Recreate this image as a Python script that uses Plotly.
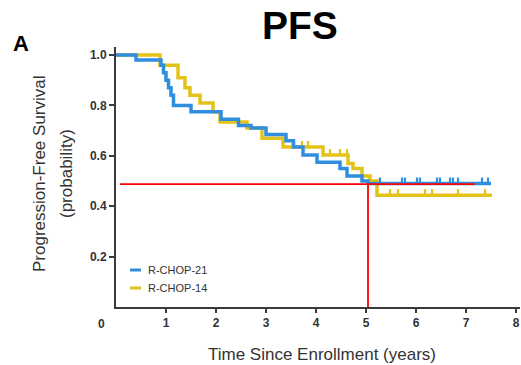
import plotly.graph_objects as go

# Kaplan-Meier step data: event times (years) and survival after each step
rchop21_time = [0.0, 0.4, 0.9, 0.95, 1.0, 1.05, 1.1, 1.15, 1.5, 2.1, 2.45, 2.7, 3.0, 3.4, 3.55,
                3.74, 4.02, 4.48, 4.62, 4.92, 5.04, 7.5]
rchop21_surv = [1.0, 0.98, 0.96, 0.93, 0.90, 0.87, 0.84, 0.80, 0.775, 0.745, 0.72, 0.71, 0.685, 0.66, 0.635,
                0.603, 0.575, 0.55, 0.52, 0.50, 0.49, 0.49]
rchop21_censor = [5.28, 5.72, 5.78, 6.02, 6.08, 6.42, 6.48, 6.68, 6.74, 6.84, 7.32, 7.44]

rchop14_time = [0.0, 0.88, 1.24, 1.38, 1.48, 1.68, 1.94, 2.08, 2.62, 2.92, 3.34, 4.14, 4.64, 4.74,
                4.92, 5.08, 5.22, 7.52]
rchop14_surv = [1.0, 0.96, 0.91, 0.87, 0.84, 0.81, 0.775, 0.734, 0.71, 0.67, 0.635, 0.603, 0.57, 0.55,
                0.52, 0.50, 0.444, 0.444]
rchop14_censor = [3.54, 3.72, 3.84, 4.28, 4.48, 4.62, 5.48, 5.64, 6.18, 6.32, 6.84, 7.38]

# Median reference lines
median_level = 0.488
median_time = 5.04
median_line_start = 0.08
median_line_end = 7.18

x_ticks = [1, 2, 3, 4, 5, 6, 7, 8]
y_ticks = [0.2, 0.4, 0.6, 0.8, 1.0]

BLUE = "#2f8fde"
YELLOW = "#e3c21a"
RED = "#ff0000"
AXIS = "#3a3a3a"
TXT = "#333333"
FONT = "Liberation Sans, Arial, sans-serif"


def step_at(times, surv, t):
    v = surv[0]
    for ti, si in zip(times, surv):
        if ti <= t:
            v = si
    return v


fig = go.Figure()

for times, surv, censor, color, name in [
    (rchop14_time, rchop14_surv, rchop14_censor, YELLOW, "R-CHOP-14"),
    (rchop21_time, rchop21_surv, rchop21_censor, BLUE, "R-CHOP-21"),
]:
    fig.add_trace(go.Scatter(x=times, y=surv, mode="lines", line=dict(color=color, width=3.5, shape="hv"),
                             name=name, showlegend=False, hoverinfo="skip"))
    fig.add_trace(go.Scatter(x=censor, y=[step_at(times, surv, c) + 0.01 for c in censor], mode="markers",
                             marker=dict(symbol="line-ns", size=5, line=dict(color=color, width=2.2)),
                             showlegend=False, hoverinfo="skip"))

fig.add_trace(go.Scatter(x=[median_line_start, median_line_end], y=[median_level, median_level], mode="lines",
                         line=dict(color=RED, width=1.8), showlegend=False, hoverinfo="skip"))
fig.add_trace(go.Scatter(x=[median_time, median_time], y=[0, median_level], mode="lines",
                         line=dict(color=RED, width=1.8), showlegend=False, hoverinfo="skip"))

L, T, W, H = 116, 47, 404, 260


def px(x):
    return (x - L) / W


def py(y):
    return (T + H - y) / H


annotations = [
    dict(text="<b>PFS</b>", x=px(300), y=py(25), font=dict(size=39, color="black", family=FONT)),
    dict(text="<b>A</b>", x=px(21), y=py(43), font=dict(size=22, color="black", family=FONT)),
    dict(text="<b>0</b>", x=px(101), y=py(324), font=dict(size=12, color=TXT, family=FONT)),
    dict(text="Time Since Enrollment (years)", x=px(322), y=py(354), font=dict(size=17, color=TXT, family=FONT)),
    dict(text="Progression-Free Survival", x=px(39), y=py(174), textangle=-90,
         font=dict(size=17, color=TXT, family=FONT)),
    dict(text="(probability)", x=px(66), y=py(174), textangle=-90, font=dict(size=17, color=TXT, family=FONT)),
    dict(text="R-CHOP-21", x=px(146), y=py(270), xanchor="left", font=dict(size=11, color=TXT, family=FONT)),
    dict(text="R-CHOP-14", x=px(146), y=py(288), xanchor="left", font=dict(size=11, color=TXT, family=FONT)),
]
for a in annotations:
    a.setdefault("xanchor", "center")
    fig.add_annotation(xref="paper", yref="paper", yanchor="middle", showarrow=False, **a)

for yy, color in [(270, BLUE), (288, YELLOW)]:
    fig.add_shape(type="line", xref="paper", yref="paper", x0=px(130), x1=px(141), y0=py(yy), y1=py(yy),
                  line=dict(color=color, width=3))

fig.update_layout(
    width=521, height=365,
    margin=dict(l=L, r=521 - L - W, t=T, b=365 - T - H),
    paper_bgcolor="white", plot_bgcolor="white",
    font=dict(family=FONT, color=TXT),
)
fig.update_xaxes(range=[0, 8.08], tickvals=x_ticks, ticktext=[f"<b>{v}</b>" for v in x_ticks],
                 ticks="outside", ticklen=4, tickwidth=1.5, tickcolor=AXIS,
                 showline=True, linecolor=AXIS, linewidth=2, showgrid=False, zeroline=False,
                 tickfont=dict(size=12, color=TXT), fixedrange=True)
fig.update_yaxes(range=[0, 1.032], tickvals=y_ticks, ticktext=[f"<b>{v:.1f}</b>" for v in y_ticks],
                 ticks="outside", ticklen=5, tickwidth=1.5, tickcolor=AXIS,
                 showline=True, linecolor=AXIS, linewidth=2, showgrid=False, zeroline=False,
                 tickfont=dict(size=12, color=TXT), fixedrange=True)

fig.write_html("out.html")
